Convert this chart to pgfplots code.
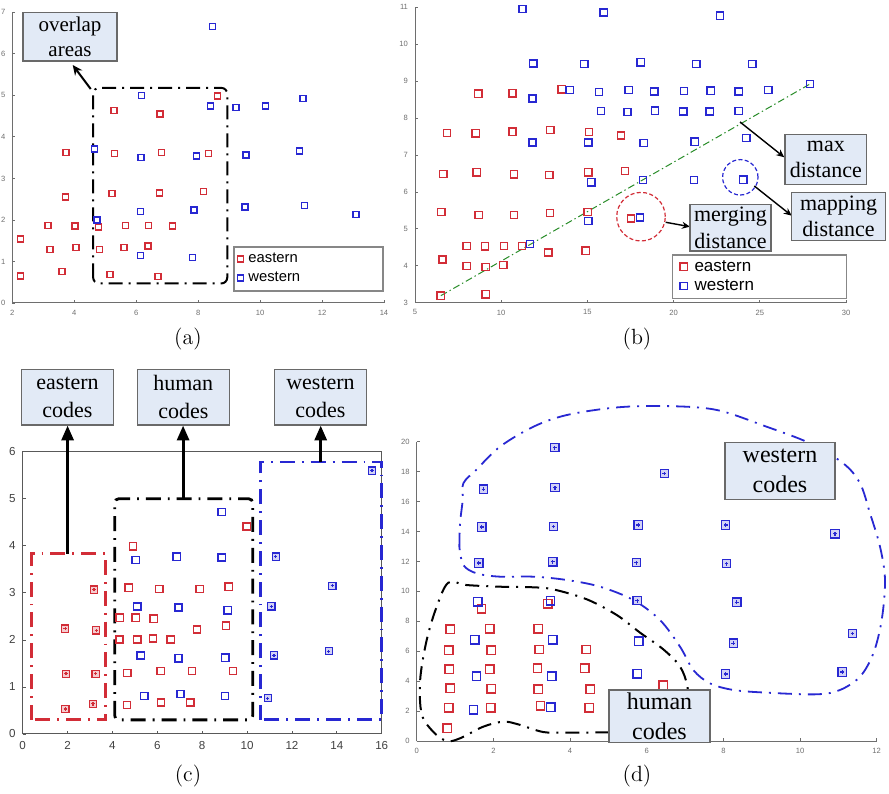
\documentclass[border=0pt]{standalone}
\usepackage{pgfplots}
\pgfplotsset{compat=1.18}
\usepackage{fontspec}
\newfontfamily\boxfont{Liberation Serif}
\newfontfamily\arialf{Liberation Sans}
\usetikzlibrary{arrows.meta}
\definecolor{mred}{RGB}{210,45,55}
\definecolor{mblue}{RGB}{40,40,210}
\definecolor{boxfill}{RGB}{226,234,246}
\definecolor{boxdraw}{RGB}{105,105,105}
\definecolor{mgreen}{RGB}{40,140,40}
\definecolor{axgray}{RGB}{110,110,110}
\makeatletter
\pgfdeclareplotmark{rsqm}{%
  \pgfsys@color@rgb@stroke{0.824}{0.176}{0.216}\pgfsetlinewidth{0.7pt}%
  \pgfpathrectangle{\pgfqpoint{-\pgfplotmarksize}{-\pgfplotmarksize}}{\pgfqpoint{2\pgfplotmarksize}{2\pgfplotmarksize}}%
  \pgfusepathqstroke}
\pgfdeclareplotmark{bsqm}{%
  \pgfsys@color@rgb@stroke{0.157}{0.157}{0.824}\pgfsetlinewidth{0.7pt}%
  \pgfpathrectangle{\pgfqpoint{-\pgfplotmarksize}{-\pgfplotmarksize}}{\pgfqpoint{2\pgfplotmarksize}{2\pgfplotmarksize}}%
  \pgfusepathqstroke}
\pgfdeclareplotmark{rspm}{%
  \pgfsys@color@rgb@stroke{0.824}{0.176}{0.216}\pgfsys@color@rgb@fill{0.961}{0.804}{0.816}\pgfsetlinewidth{0.6pt}%
  \pgfpathrectangle{\pgfqpoint{-\pgfplotmarksize}{-\pgfplotmarksize}}{\pgfqpoint{2\pgfplotmarksize}{2\pgfplotmarksize}}%
  \pgfusepathqfillstroke
  \pgfpathmoveto{\pgfqpoint{-0.45\pgfplotmarksize}{0pt}}\pgfpathlineto{\pgfqpoint{0.45\pgfplotmarksize}{0pt}}%
  \pgfpathmoveto{\pgfqpoint{0pt}{-0.45\pgfplotmarksize}}\pgfpathlineto{\pgfqpoint{0pt}{0.45\pgfplotmarksize}}%
  \pgfusepathqstroke}
\pgfdeclareplotmark{bspm}{%
  \pgfsys@color@rgb@stroke{0.157}{0.157}{0.824}\pgfsys@color@rgb@fill{0.824}{0.824}{0.965}\pgfsetlinewidth{0.6pt}%
  \pgfpathrectangle{\pgfqpoint{-\pgfplotmarksize}{-\pgfplotmarksize}}{\pgfqpoint{2\pgfplotmarksize}{2\pgfplotmarksize}}%
  \pgfusepathqfillstroke
  \pgfpathmoveto{\pgfqpoint{-0.45\pgfplotmarksize}{0pt}}\pgfpathlineto{\pgfqpoint{0.45\pgfplotmarksize}{0pt}}%
  \pgfpathmoveto{\pgfqpoint{0pt}{-0.45\pgfplotmarksize}}\pgfpathlineto{\pgfqpoint{0pt}{0.45\pgfplotmarksize}}%
  \pgfusepathqstroke}
\makeatother
\tikzset{abox/.style={draw=boxdraw, fill=boxfill, line width=0.7pt, align=center, inner sep=0pt},
  dd/.style={dash pattern=on 7pt off 3pt on 1pt off 3pt}}
\pgfplotsset{
  mlab/.style={scale only axis, anchor=south west, enlargelimits=false, clip=false,
    axis x line*=bottom, axis y line*=left, tick align=inside, major tick length=1.5pt,
    axis line style={axgray, line width=0.5pt}, every tick/.style={axgray, line width=0.4pt},
    tick label style={font=\arialf\fontsize{3.8}{4.2}\selectfont, text=axgray},
    /pgf/number format/assume math mode=true},
  rsq/.style={only marks, mark=rsqm, mred, mark options={solid}},
  bsq/.style={only marks, mark=bsqm, mblue, mark options={solid}},
  rsp/.style={only marks, mark=rspm, mred, mark options={solid}},
  bsp/.style={only marks, mark=bspm, mblue, mark options={solid}}
}
\begin{document}
\begin{tikzpicture}
\path[use as bounding box] (0,0) rectangle (444.5pt,396.5pt);
% ---------------- (a)
\begin{axis}[mlab, at={(6.15pt,245pt)}, width=185.85pt, height=145.35pt,
  xmin=2, xmax=14, ymin=0, ymax=7, xtick={2,4,...,14}, ytick={0,1,...,7},
  legend style={at={(0.6045,0.1187)}, anchor=west, draw=none, fill=none,
    font=\arialf\fontsize{7.4}{8}\selectfont, inner sep=0pt, row sep=2.5pt,
    nodes={inner sep=0.5pt, text height=5pt, text depth=1pt},
    /tikz/every odd column/.append style={column sep=2pt}},
  legend cell align=left]
\addplot[rsq, mark size=1.5pt] coordinates {(2.27,1.54) (2.27,0.65) (3.15,1.86) (3.22,1.29) (3.60,0.76) (3.72,2.55) (3.73,3.63) (4.03,1.85) (4.06,1.33) (4.78,1.83) (4.81,1.29) (5.15,0.69) (5.22,2.64) (5.28,4.63) (5.30,3.60) (5.65,1.86) (5.61,1.34) (6.40,1.86) (6.38,1.37) (6.70,0.64) (6.75,2.65) (6.77,4.55) (6.81,3.63) (7.18,1.85) (8.18,2.68) (8.33,3.60) (8.62,4.98)};
\addlegendentry{eastern}
\addplot[bsq, mark size=1.5pt] coordinates {(8.47,6.66) (6.18,4.99) (8.39,4.74) (9.22,4.71) (10.18,4.74) (11.38,4.92) (4.66,3.71) (6.15,3.50) (7.95,3.54) (9.55,3.56) (11.27,3.66) (4.74,2.00) (6.13,2.20) (7.87,2.24) (9.51,2.31) (11.44,2.35) (13.10,2.13) (6.13,1.14) (7.81,1.09)};
\addlegendentry{western}
\draw[black, line width=1pt, dd, rounded corners=3pt] (axis cs:4.61,0.47) rectangle (axis cs:8.94,5.18);
\end{axis}
% ---------------- (b)
\begin{axis}[mlab, at={(207.5pt,245.15pt)}, width=215.5pt, height=147.7pt,
  xmin=5, xmax=30, ymin=3, ymax=11, xtick={5,10,...,30}, ytick={3,4,...,11},
  legend style={at={(0.614,0.0892)}, anchor=west, draw=none, fill=none,
    font=\arialf\fontsize{8.5}{9}\selectfont, inner sep=0pt, row sep=1.35pt,
    nodes={inner sep=0.5pt, text height=6pt, text depth=1.3pt},
    /tikz/every odd column/.append style={column sep=3.15pt}},
  legend cell align=left]
\addplot[mgreen, line width=0.5pt, dash pattern=on 3.5pt off 1.5pt on 0.7pt off 1.5pt, forget plot] coordinates {(6.5,3.19) (27.9,8.92)};
\addplot[rsq, mark size=1.8pt] coordinates {(6.49,3.19) (9.10,3.23) (6.59,4.17) (8.00,3.99) (9.10,3.97) (10.12,4.02) (8.00,4.54) (9.06,4.53) (10.16,4.54) (11.21,4.54) (12.73,4.36) (14.90,4.41) (6.53,5.46) (8.69,5.37) (10.74,5.38) (12.83,5.43) (15.02,5.46) (17.53,5.28) (6.64,6.49) (8.58,6.53) (10.74,6.48) (12.79,6.46) (15.05,6.53) (17.18,6.57) (6.86,7.60) (8.52,7.59) (10.65,7.63) (12.85,7.68) (15.09,7.62) (16.95,7.53) (8.67,8.66) (10.65,8.67) (13.51,8.78)};
\addlegendentry{eastern}
\addplot[bsq, mark size=1.8pt] coordinates {(11.23,10.95) (15.94,10.86) (22.69,10.77) (11.86,9.48) (14.82,9.47) (18.09,9.51) (21.32,9.46) (24.57,9.47) (11.81,8.53) (13.97,8.76) (15.67,8.71) (17.39,8.76) (18.88,8.72) (20.60,8.73) (22.15,8.74) (23.77,8.72) (25.49,8.76) (27.91,8.92) (15.79,8.19) (17.32,8.17) (18.92,8.20) (20.56,8.18) (22.09,8.18) (23.77,8.19) (11.81,7.34) (15.05,7.34) (18.26,7.33) (21.22,7.36) (24.22,7.46) (15.23,6.26) (18.23,6.32) (21.18,6.32) (24.04,6.33) (15.05,5.21) (18.05,5.31) (11.67,4.59)};
\addlegendentry{western}
\end{axis}
% ---------------- (c)
\begin{axis}[scale only axis, anchor=south west, at={(11.35pt,29.5pt)}, width=179.5pt, height=141.15pt,
  xmin=0, xmax=16, ymin=0, ymax=6, xtick={0,2,...,16}, ytick={0,1,...,6},
  enlargelimits=false, clip=false, tick align=inside, xtick pos=left, ytick pos=left,
  major tick length=1.6pt, axis line style={black!65, line width=0.5pt},
  every tick/.style={black!65, line width=0.4pt},
  tick label style={font=\arialf\fontsize{5.8}{6}\selectfont, text=black!75},
  /pgf/number format/assume math mode=true]
\addplot[rsp, mark size=1.8pt] coordinates {(1.90,0.53) (3.13,0.64) (1.93,1.28) (3.25,1.28) (1.89,2.24) (3.28,2.20) (3.18,3.07)};
\addplot[rsq, mark size=1.8pt] coordinates {(4.65,0.62) (6.17,0.67) (7.47,0.67) (4.66,1.30) (6.15,1.34) (7.55,1.34) (9.37,1.34) (4.31,2.01) (5.11,2.01) (5.81,2.03) (6.60,2.01) (7.77,2.22) (9.06,2.30) (4.32,2.47) (5.04,2.47) (5.84,2.45) (4.72,3.11) (6.09,3.08) (7.89,3.08) (9.18,3.13) (4.92,3.99) (9.98,4.41)};
\addplot[bsq, mark size=1.8pt] coordinates {(5.42,0.81) (7.03,0.85) (9.02,0.81) (5.26,1.67) (6.94,1.61) (9.03,1.62) (5.11,2.71) (6.94,2.69) (9.14,2.63) (5.04,3.70) (6.86,3.77) (8.87,3.75) (8.87,4.72)};
\addplot[bsp, mark size=1.8pt] coordinates {(10.92,0.76) (11.20,1.67) (11.08,2.71) (11.28,3.77) (13.64,1.76) (13.80,3.15) (15.57,5.60)};
\draw[mred, line width=1.4pt, dash pattern=on 7.5pt off 3.5pt on 0.9pt off 3.5pt] (axis cs:0.4,0.3) rectangle (axis cs:3.7,3.83);
\draw[black, line width=1.4pt, dash pattern=on 7.5pt off 3.5pt on 0.9pt off 3.5pt, rounded corners=2pt] (axis cs:4.1,0.3) rectangle (axis cs:10.25,5.0);
\draw[mblue, line width=1.4pt, dash pattern=on 7.5pt off 3.5pt on 0.9pt off 3.5pt] (axis cs:10.6,0.3) rectangle (axis cs:16,5.78);
\end{axis}
% ---------------- (d)
\begin{axis}[mlab, at={(208.35pt,26pt)}, width=230pt, height=149.65pt,
  xmin=0, xmax=12, ymin=0, ymax=20, xtick={0,2,...,12}, ytick={0,2,...,20}]
\addplot[mblue, line width=0.9pt, dash pattern=on 7pt off 3.5pt on 1pt off 3.5pt, smooth, tension=0.55] coordinates {(1.113,12.98) (1.130,14.54) (1.200,16.10) (1.217,17.22) (1.565,18.15) (2.174,19.67) (3.043,21.00) (3.913,21.78) (5.217,22.29) (6.522,22.38) (7.826,22.12) (9.130,21.00) (10.261,19.89) (11.130,18.55) (11.565,17.22) (11.826,15.21) (12.087,12.98) (12.217,10.76) (12.130,8.08) (11.913,5.86) (11.565,4.30) (11.043,3.41) (10.435,3.12) (9.130,3.23) (8.261,3.41) (7.652,3.85) (7.217,4.74) (6.870,6.30) (6.348,8.08) (5.652,9.42) (4.783,10.31) (3.913,10.76) (3.043,10.98) (2.174,10.98) (1.565,11.20) (1.217,11.76) (1.113,12.98)};
\addplot[black, line width=1pt, dash pattern=on 7pt off 3.5pt on 1pt off 3.5pt, smooth, tension=0.55] coordinates {(5.026,0.58) (3.913,0.56) (3.30,0.60) (2.65,1.11) (2.26,1.29) (1.739,0.96) (1.130,0.18) (0.783,0.00) (0.43,0.62) (0.13,1.80) (0.09,4.08) (0.261,6.75) (0.522,8.98) (0.826,10.58) (1.304,10.42) (2.174,10.31) (3.043,10.27) (3.565,10.13) (4.435,9.47) (5.217,8.42) (5.826,7.24) (6.435,6.12) (6.870,4.97) (7.061,3.63) (7.087,1.85) (6.522,0.56) (5.026,0.58)};
\addplot[rsq, mark size=2.1pt] coordinates {(0.80,0.85) (0.84,2.23) (0.87,3.54) (0.85,4.79) (0.84,6.08) (0.87,7.46) (1.69,8.84) (1.93,2.23) (1.94,3.50) (1.91,4.79) (1.94,6.08) (1.91,7.51) (3.23,2.34) (3.17,3.47) (3.15,4.86) (3.20,6.12) (3.17,7.51) (3.42,9.18) (4.50,2.23) (4.53,3.45) (4.39,4.86) (4.42,6.12) (6.43,3.74)};
\addplot[bsq, mark size=2.1pt] coordinates {(1.48,2.09) (1.56,4.32) (1.52,6.75) (1.59,9.31) (3.50,2.25) (3.52,4.32) (3.55,6.75) (3.49,9.38) (5.75,4.48) (5.79,6.68)};
\addplot[bsp, mark size=2.1pt] coordinates {(3.60,19.60) (3.61,16.93) (1.74,16.82) (1.70,14.30) (3.57,14.34) (1.62,11.89) (3.55,11.98) (6.46,17.88) (5.78,14.43) (5.73,11.92) (5.75,9.38) (8.06,14.43) (8.08,11.85) (8.35,9.27) (8.26,6.53) (8.06,4.48) (10.91,13.85) (11.37,7.19) (11.10,4.61)};
\end{axis}
% ---------------- annotations (pixel frame)
\begin{scope}[x=0.5pt, y=-0.5pt, shift={(0pt,396.5pt)}]
% (a)
\draw[boxdraw!80, line width=0.6pt] (234,247) rectangle (383,291);
\draw[line width=1pt, -{Stealth[length=5pt,width=4.5pt]}] (90.7,89) -- (72.7,65);
\node[abox, minimum width=47pt, minimum height=24.15pt, font=\boxfont\fontsize{10.5}{12.5}\selectfont] at (70,36.85) {overlap\\areas};
% (b)
\draw[boxdraw!80, line width=0.6pt] (672.7,255) rectangle (846.7,298.3);
\draw[mred, dash pattern=on 2pt off 1.2pt, line width=0.6pt] (641,216.7) circle[radius=12.15pt];
\draw[mblue, dash pattern=on 2pt off 1.2pt, line width=0.6pt] (740.3,177.3) circle[radius=8.85pt];
\draw[line width=0.7pt, -{Stealth[length=4pt,width=3.5pt]}] (740,122) -- (784.3,157.3);
\draw[line width=0.7pt, -{Stealth[length=4pt,width=3.5pt]}] (754.3,186) -- (791.7,215.7);
\draw[line width=0.7pt, -{Stealth[length=4pt,width=3.5pt]}] (665.7,222.3) -- (690,226.7);
\node[abox, minimum width=40.85pt, minimum height=25pt, font=\boxfont\fontsize{11}{13.3}\selectfont] at (825.85,159.3) {max\\distance};
\node[abox, minimum width=46.8pt, minimum height=24.2pt, font=\boxfont\fontsize{11}{13.3}\selectfont] at (838.5,216.5) {mapping\\distance};
\node[abox, minimum width=40.5pt, minimum height=23.35pt, font=\boxfont\fontsize{11}{13.3}\selectfont] at (730.5,227.65) {merging\\distance};
% (c)
\draw[line width=1.6pt, -{Triangle[length=7.5pt,width=6pt]}] (67.6,553.8) -- (67.6,425.5);
\draw[line width=1.6pt, -{Triangle[length=7.5pt,width=6pt]}] (183.1,498.75) -- (183.1,425.5);
\draw[line width=1.6pt, -{Triangle[length=7.5pt,width=6pt]}] (320.7,462) -- (320.7,425.5);
\node[abox, minimum width=45.8pt, minimum height=27.85pt, font=\boxfont\fontsize{11}{14}\selectfont] at (67.5,397.15) {eastern\\codes};
\node[abox, minimum width=46pt, minimum height=27.85pt, font=\boxfont\fontsize{11}{14}\selectfont] at (183.3,397.15) {human\\codes};
\node[abox, minimum width=46.2pt, minimum height=27.85pt, font=\boxfont\fontsize{11}{14}\selectfont] at (320.5,397.15) {western\\codes};
% (d)
\node[abox, minimum width=50.5pt, minimum height=26.15pt, font=\boxfont\fontsize{12}{15}\selectfont] at (659.5,716.15) {human\\codes};
\node[abox, minimum width=55pt, minimum height=28.3pt, font=\boxfont\fontsize{12}{15}\selectfont] at (780,471) {western\\codes};
% captions
\node[font=\fontsize{11}{13}\selectfont] at (188,339) {(a)};
\node[font=\fontsize{11}{13}\selectfont] at (637,339) {(b)};
\node[font=\fontsize{11}{13}\selectfont] at (188,776) {(c)};
\node[font=\fontsize{11}{13}\selectfont] at (637,776) {(d)};
\end{scope}
\end{tikzpicture}
\end{document}
